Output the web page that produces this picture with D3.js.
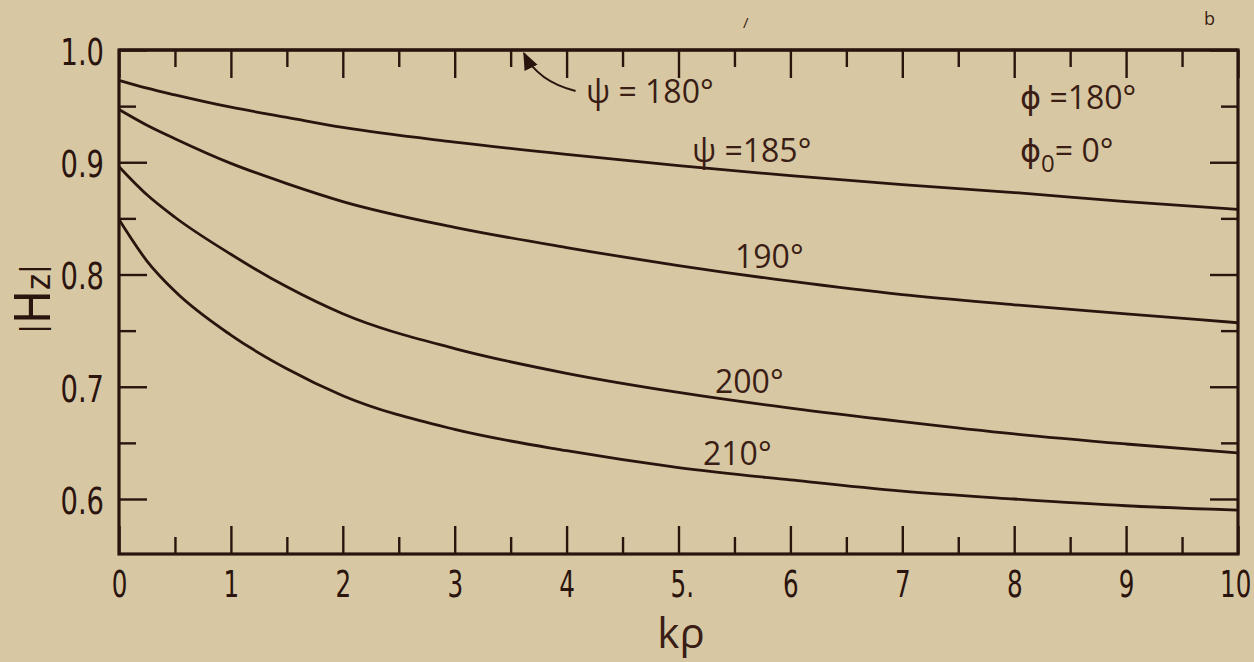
<!DOCTYPE html>
<html>
<head>
<meta charset="UTF-8" />
<title>|Hz| versus k rho</title>
<script src="https://d3js.org/d3.v7.min.js"></script>
<style>
  html, body { margin: 0; padding: 0; background: #d7c8a3; }
  svg { display: block; }
  .num { font-family: "Liberation Sans Narrow", "DejaVu Sans Condensed", sans-serif; fill: #2b140e; }
  .lbl { font-family: "Open Sans", "DejaVu Sans", sans-serif; fill: #3a1d14; }
</style>
</head>
<body>
<svg id="chart" width="1254" height="662"></svg>
<script>
// values
const kp = [0, 0.25, 0.5, 1, 1.5, 2, 3, 4, 5, 6, 7, 8, 9, 10];
const psi180 = [1, 1, 1, 1, 1, 1, 1, 1, 1, 1, 1, 1, 1, 1];
const psi185 = [0.973, 0.966, 0.960, 0.949, 0.940, 0.931, 0.918, 0.907, 0.897, 0.888, 0.880, 0.873, 0.865, 0.858];
const psi190 = [0.947, 0.933, 0.921, 0.899, 0.881, 0.865, 0.842, 0.824, 0.808, 0.794, 0.782, 0.773, 0.765, 0.757];
const psi200 = [0.896, 0.871, 0.851, 0.818, 0.789, 0.765, 0.734, 0.712, 0.695, 0.681, 0.669, 0.658, 0.649, 0.641];
const psi210 = [0.849, 0.812, 0.785, 0.746, 0.716, 0.692, 0.662, 0.643, 0.628, 0.617, 0.607, 0.600, 0.594, 0.590];

const xMajor = [0, 1, 2, 3, 4, 5, 6, 7, 8, 9, 10];
const xLabels = ['0', '1', '2', '3', '4', '5.', '6', '7', '8', '9', '10'];
const xMinor = [0.5, 1.5, 2.5, 3.5, 4.5, 5.5, 6.5, 7.5, 8.5, 9.5];
const yMajor = [0.6, 0.7, 0.8, 0.9, 1.0];
const yLabels = ['0.6', '0.7', '0.8', '0.9', '1.0'];
const yMinor = [0.65, 0.75, 0.85, 0.95];

const ink = '#2b140e';
const svg = d3.select('#chart');

const x = d3.scaleLinear().domain([0, 10]).range([119, 1238]);
const y = d3.scaleLinear().domain([0.551, 1.0]).range([554, 50]);

// axes, ticks pointing inward
function ticks(axis, vals, size, fmt) {
  return axis.tickValues(vals).tickSizeInner(-size).tickSizeOuter(0).tickFormat(fmt || '');
}
const axes = [
  ['bottom', d3.axisBottom(x), xMajor, xMinor, `translate(0,${y.range()[0]})`],
  ['top', d3.axisTop(x), xMajor, xMinor, `translate(0,${y.range()[1]})`],
  ['left', d3.axisLeft(y), yMajor, yMinor, `translate(${x.range()[0]},0)`],
  ['right', d3.axisRight(y), yMajor, yMinor, `translate(${x.range()[1]},0)`]
];
axes.forEach(([side, ax, major, minor, tr]) => {
  const g = svg.append('g').attr('transform', tr);
  let fmt = '';
  if (side === 'bottom') fmt = (d, i) => xLabels[i];
  if (side === 'left') fmt = (d, i) => yLabels[i];
  g.call(ticks(ax, major, 28, fmt).tickPadding(side === 'bottom' ? 16 : 15));
  const gm = svg.append('g').attr('transform', tr);
  const axMinor = side === 'bottom' ? d3.axisBottom(x) : side === 'top' ? d3.axisTop(x)
    : side === 'left' ? d3.axisLeft(y) : d3.axisRight(y);
  gm.call(ticks(axMinor, minor, 17));
  [g, gm].forEach(s => {
    s.select('.domain').remove();
    s.selectAll('line').attr('stroke', ink).attr('stroke-width', 2.4);
  });
  gm.selectAll('text').remove();
  g.selectAll('text').attr('class', 'num').attr('font-size', 38).attr('fill', ink)
    .attr('font-family', null);
  if (side === 'left') {
    g.selectAll('text').attr('x', -15 / 0.8).attr('dy', '0.38em').attr('transform', 'scale(0.8,1)');
  }
  if (side === 'bottom') {
    g.selectAll('text').attr('transform', 'scale(0.72,1)')
      .attr('dx', d => d === 5 ? '0.12em' : d === 10 ? '-0.1em' : null);
  }
  if (side === 'top' || side === 'right') g.selectAll('text').remove();
});

// frame
svg.append('rect')
  .attr('x', x.range()[0]).attr('y', y.range()[1])
  .attr('width', x.range()[1] - x.range()[0]).attr('height', y.range()[0] - y.range()[1])
  .attr('fill', 'none').attr('stroke', ink).attr('stroke-width', 3.2);

// curves
const line = d3.line().x((d, i) => x(kp[i])).y(d => y(d)).curve(d3.curveMonotoneX);
[psi180, psi185, psi190, psi200, psi210].forEach(s => {
  svg.append('path').attr('d', line(s))
    .attr('fill', 'none').attr('stroke', ink).attr('stroke-width', 2.8);
});

// curve labels
const lab = svg.append('g').attr('class', 'lbl').attr('font-size', 32);
lab.append('text').attr('x', 586).attr('y', 103).text('ψ = 180°');
lab.append('text').attr('x', 692).attr('y', 162).text('ψ =185°');
lab.append('text').attr('x', 735).attr('y', 268).text('190°');
lab.append('text').attr('x', 715).attr('y', 393).text('200°');
lab.append('text').attr('x', 703).attr('y', 465).text('210°');
lab.append('text').attr('x', 1020).attr('y', 109).text('ϕ =180°');
const p0 = lab.append('text').attr('x', 1020).attr('y', 162);
p0.append('tspan').text('ϕ');
p0.append('tspan').attr('font-size', 24).attr('dy', 10).text('0');
p0.append('tspan').attr('dy', -10).text('= 0°');

// arrow to the psi = 180 line
svg.append('defs').append('marker')
  .attr('id', 'head').attr('viewBox', '0 0 10 10').attr('refX', 9).attr('refY', 5)
  .attr('markerWidth', 9).attr('markerHeight', 9).attr('orient', 'auto')
  .append('path').attr('d', 'M0,1 L10,5 L0,9 Z').attr('fill', ink);
svg.append('path')
  .attr('d', `M${x(4.08)},${y(0.9635)} Q${x(3.74)},${y(0.972)} ${x(3.62)},${y(0.997)}`)
  .attr('fill', 'none').attr('stroke', ink).attr('stroke-width', 2)
  .attr('marker-end', 'url(#head)');

// axis titles
const yt = svg.append('text').attr('class', 'num').attr('font-size', 50)
  .attr('transform', 'translate(50,299) rotate(-90)').attr('text-anchor', 'middle');
yt.append('tspan').attr('font-size', 32).attr('dy', -7).text('|');
yt.append('tspan').attr('dy', 7).text('H');
yt.append('tspan').attr('font-size', 34).text('z');
yt.append('tspan').attr('font-size', 32).attr('dy', -7).text('|');

svg.append('text').attr('class', 'lbl').attr('font-size', 42)
  .attr('x', 681).attr('y', 648).attr('text-anchor', 'middle').text('kρ');

// stray marks on the sheet
svg.append('text').attr('class', 'lbl').attr('font-size', 18).attr('x', 1204).attr('y', 25).text('b');
svg.append('text').attr('class', 'lbl').attr('font-size', 15).attr('x', 743).attr('y', 28).text('/');
</script>
</body>
</html>
